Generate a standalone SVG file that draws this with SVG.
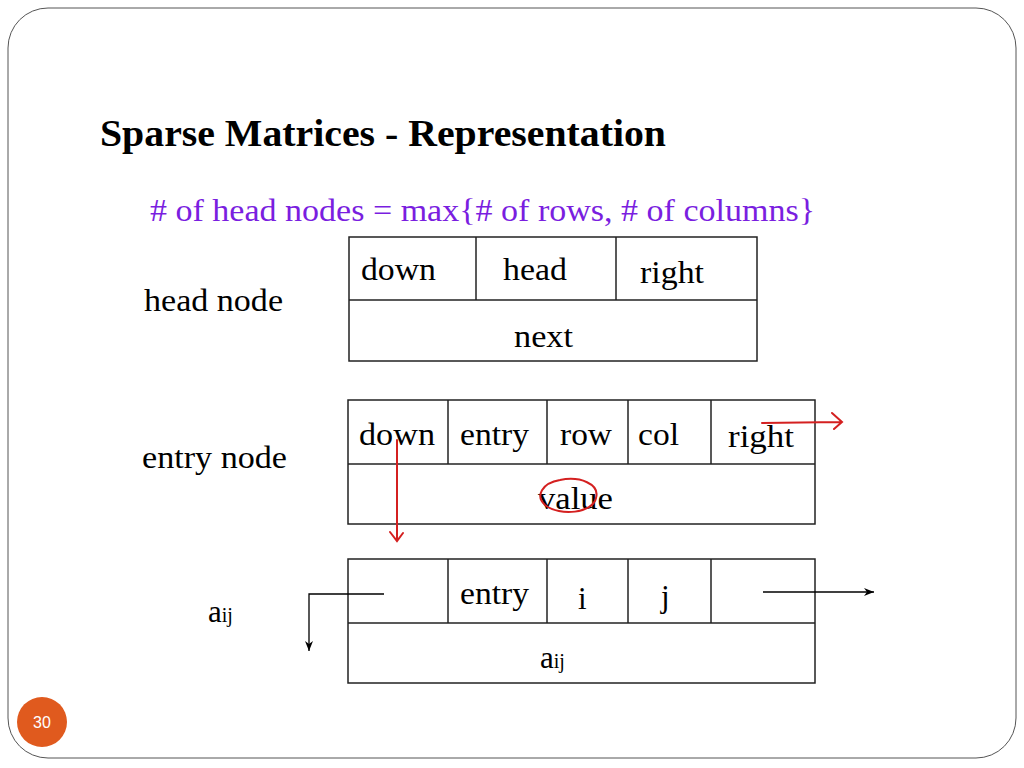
<svg xmlns="http://www.w3.org/2000/svg" width="1024" height="768" viewBox="0 0 1024 768">
<defs>
<style>
.t{font-family:"Liberation Serif",serif;font-size:31px;fill:#000}
.b{fill:none;stroke:#222;stroke-width:1.5}
.r{fill:none;stroke:#d42020;stroke-width:2;stroke-linecap:round}
</style>
<marker id="ah" viewBox="0 0 10 10" refX="10" refY="5" markerWidth="10" markerHeight="10" orient="auto" markerUnits="userSpaceOnUse"><path d="M0,1 L10,5 L0,9 L3,5 Z" fill="#000"/></marker>
</defs>
<rect x="0" y="0" width="1024" height="768" fill="#fff"/>
<rect x="8" y="8" width="1008" height="750" rx="40" fill="#fff" stroke="#555" stroke-width="1"/>
<text x="100" y="146" font-family="Liberation Serif,serif" font-size="37" font-weight="bold" textLength="566" lengthAdjust="spacingAndGlyphs">Sparse Matrices - Representation</text>
<text x="150" y="221" font-family="Liberation Serif,serif" font-size="31" fill="#7a1ee0" textLength="665" lengthAdjust="spacingAndGlyphs"># of head nodes = max{# of rows, # of columns}</text>
<g id="headnode">
<rect class="b" x="349" y="237" width="408" height="124"/>
<line class="b" x1="349" y1="300" x2="757" y2="300"/>
<line class="b" x1="476" y1="237" x2="476" y2="300"/>
<line class="b" x1="616" y1="237" x2="616" y2="300"/>
<text class="t" x="361" y="280" textLength="75" lengthAdjust="spacingAndGlyphs">down</text>
<text class="t" x="503" y="280" textLength="64" lengthAdjust="spacingAndGlyphs">head</text>
<text class="t" x="640" y="283" textLength="64" lengthAdjust="spacingAndGlyphs">right</text>
<text class="t" x="514" y="347" textLength="59" lengthAdjust="spacingAndGlyphs">next</text>
<text class="t" x="144" y="311" textLength="139" lengthAdjust="spacingAndGlyphs">head node</text>
</g>
<g id="entrynode">
<rect class="b" x="348" y="400" width="467" height="124"/>
<line class="b" x1="348" y1="464" x2="815" y2="464"/>
<line class="b" x1="448" y1="400" x2="448" y2="464"/>
<line class="b" x1="547" y1="400" x2="547" y2="464"/>
<line class="b" x1="628" y1="400" x2="628" y2="464"/>
<line class="b" x1="711" y1="400" x2="711" y2="464"/>
<text class="t" x="359" y="445" textLength="76" lengthAdjust="spacingAndGlyphs">down</text>
<text class="t" x="460" y="445" textLength="69" lengthAdjust="spacingAndGlyphs">entry</text>
<text class="t" x="560" y="445" textLength="52" lengthAdjust="spacingAndGlyphs">row</text>
<text class="t" x="638" y="445" textLength="41" lengthAdjust="spacingAndGlyphs">col</text>
<text class="t" x="728" y="447" textLength="66" lengthAdjust="spacingAndGlyphs">right</text>
<text class="t" x="538" y="509" textLength="75" lengthAdjust="spacingAndGlyphs">value</text>
<text class="t" x="142" y="468" textLength="145" lengthAdjust="spacingAndGlyphs">entry node</text>
</g>
<g id="aijnode">
<rect class="b" x="348" y="559" width="467" height="124"/>
<line class="b" x1="348" y1="623" x2="815" y2="623"/>
<line class="b" x1="448" y1="559" x2="448" y2="623"/>
<line class="b" x1="547" y1="559" x2="547" y2="623"/>
<line class="b" x1="628" y1="559" x2="628" y2="623"/>
<line class="b" x1="711" y1="559" x2="711" y2="623"/>
<text class="t" x="460" y="604" textLength="69" lengthAdjust="spacingAndGlyphs">entry</text>
<text class="t" x="578" y="609">i</text>
<text class="t" x="661" y="607">j</text>
<text class="t" x="540" y="668">a<tspan font-size="20">ij</tspan></text>
<text class="t" x="208" y="622">a<tspan font-size="20">ij</tspan></text>
</g>
<g id="connectors">
<path d="M384,594 H309 V651" fill="none" stroke="#000" stroke-width="1.3" marker-end="url(#ah)"/>
<line x1="763" y1="592" x2="874" y2="592" stroke="#000" stroke-width="1.3" marker-end="url(#ah)"/>
<path class="r" d="M397,440 L397,540 M390,532 L397,541 L403,533"/>
<path class="r" d="M762,423 L840,422 M832,413 L842,422 L834,429"/>
<path class="r" d="M560,480 C580,476 600,484 596,498 C593,513 560,517 545,505 C535,496 542,483 560,480 Z"/>
</g>
<circle cx="42" cy="722" r="25" fill="#e05a1e"/>
<text x="42" y="728" font-family="Liberation Sans,sans-serif" font-size="16" fill="#fff" text-anchor="middle">30</text>
</svg>
